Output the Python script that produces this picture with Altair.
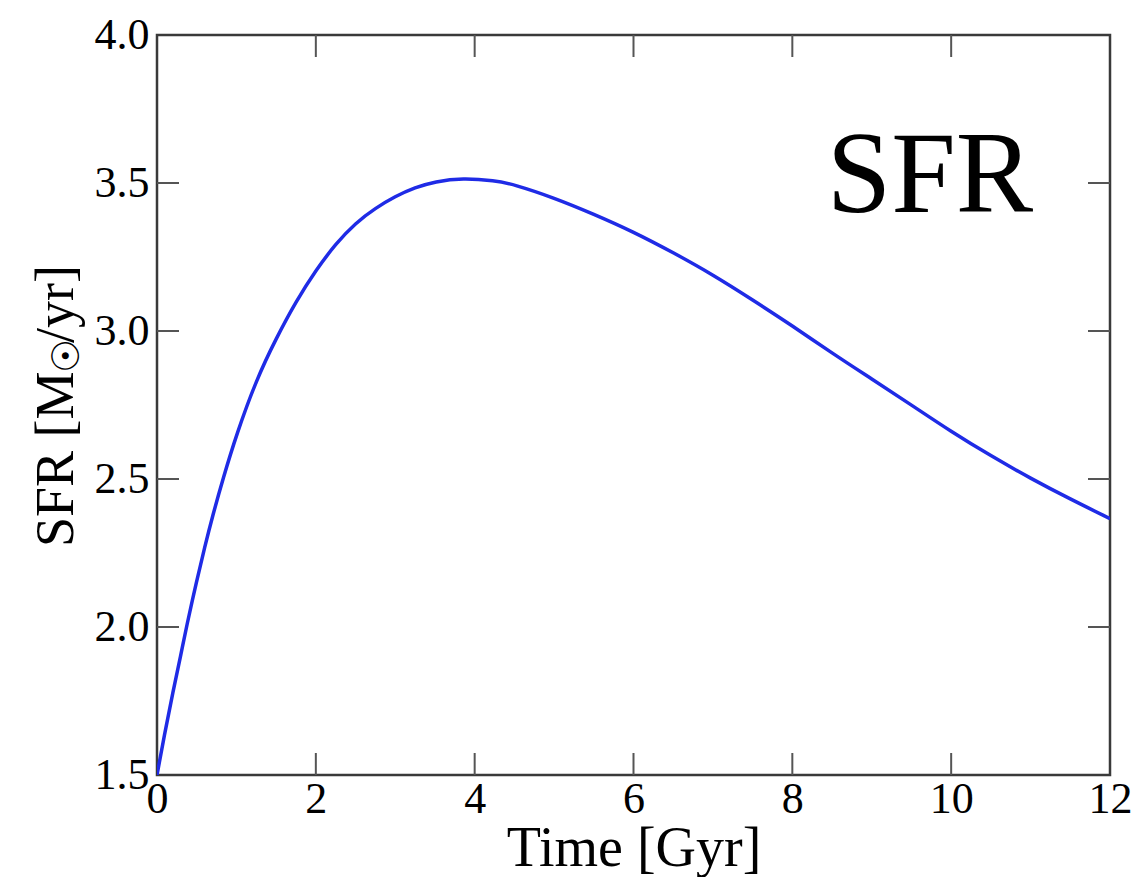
import altair as alt
import pandas as pd

# Curve
time_gyr = [0.0, 0.1, 0.2, 0.3, 0.37, 0.5, 0.6, 0.7, 0.83, 1.0, 1.25, 1.5, 1.75,
            2.0, 2.25, 2.5, 2.75, 3.0, 3.25, 3.5, 3.85, 4.25, 4.5, 5.0, 5.5,
            6.0, 6.5, 7.0, 7.5, 8.0, 8.5, 9.0, 9.5, 10.0, 10.5, 11.0, 11.5, 12.0]
sfr = [1.50, 1.645, 1.78, 1.905, 2.0, 2.156, 2.269, 2.375, 2.50, 2.65, 2.835, 2.975, 3.10,
       3.205, 3.295, 3.365, 3.415, 3.455, 3.485, 3.505, 3.517, 3.508, 3.495, 3.45, 3.395,
       3.335, 3.265, 3.19, 3.105, 3.018, 2.925, 2.838, 2.75, 2.66, 2.578, 2.502, 2.432, 2.366]

x_tick_labels = [0, 2, 4, 6, 8, 10, 12]
y_tick_labels = [1.5, 2.0, 2.5, 3.0, 3.5, 4.0]
x_inner_ticks = [2, 4, 6, 8, 10]
y_inner_ticks = [2.0, 2.5, 3.0, 3.5]
panel_label = ["SFR"]
y_title_parts = ["SFR [M", "\u2609", "/yr]"]

W, H = 953, 740
FONT = "Liberation Serif"
TICK_LEN = 22

curve = pd.DataFrame({"t": time_gyr, "sfr": sfr})
xt = pd.DataFrame({"t": x_inner_ticks})
yt = pd.DataFrame({"v": y_inner_ticks})
lab = pd.DataFrame({"label": panel_label})

xscale = alt.Scale(domain=[0, 12], nice=False, zero=False)
yscale = alt.Scale(domain=[1.5, 4.0], nice=False, zero=False)

line = alt.Chart(curve).mark_line(color="#1f2be6", strokeWidth=3.5, clip=True,
                                  interpolate="basis").encode(
    x=alt.X("t:Q", scale=xscale,
            axis=alt.Axis(values=x_tick_labels, format="d", title="Time [Gyr]", grid=False,
                          ticks=False, domain=False, labelFont=FONT, labelFontSize=44,
                          labelColor="black", labelPadding=2, labelFlush=False,
                          labelOverlap=False, titleFont=FONT, titleFontSize=56,
                          titleFontWeight="normal", titleColor="black", titlePadding=0)),
    y=alt.Y("sfr:Q", scale=yscale,
            axis=alt.Axis(values=y_tick_labels, format=".1f", title=None,
                          grid=False, ticks=False, domain=False, labelFont=FONT,
                          labelFontSize=44, labelColor="black", labelPadding=8,
                          labelFlush=False, labelOverlap=False)),
)

tick_color = "#555555"
bottom_ticks = alt.Chart(xt).mark_rule(color=tick_color, strokeWidth=2).encode(
    x=alt.X("t:Q", scale=xscale), y=alt.value(H), y2=alt.value(H - TICK_LEN))
top_ticks = alt.Chart(xt).mark_rule(color=tick_color, strokeWidth=2).encode(
    x=alt.X("t:Q", scale=xscale), y=alt.value(0), y2=alt.value(TICK_LEN))
left_ticks = alt.Chart(yt).mark_rule(color=tick_color, strokeWidth=2).encode(
    y=alt.Y("v:Q", scale=yscale), x=alt.value(0), x2=alt.value(TICK_LEN))
right_ticks = alt.Chart(yt).mark_rule(color=tick_color, strokeWidth=2).encode(
    y=alt.Y("v:Q", scale=yscale), x=alt.value(W), x2=alt.value(W - TICK_LEN))

label = alt.Chart(lab).mark_text(font=FONT, fontSize=116, color="black", align="center",
                                 baseline="alphabetic").encode(
    text="label:N", x=alt.value(773), y=alt.value(177))

# y-axis title built from pieces so the solar symbol can sit as a subscript
yt1 = alt.Chart(pd.DataFrame({"s": [y_title_parts[0]]})).mark_text(
    font=FONT, fontSize=54, color="black", angle=270, align="left",
    baseline="alphabetic").encode(text="s:N", x=alt.value(-84), y=alt.value(512))
yt2 = alt.Chart(pd.DataFrame({"s": [y_title_parts[1]]})).mark_text(
    font="DejaVu Sans", fontSize=38, color="black", angle=270, align="center",
    baseline="middle").encode(text="s:N", x=alt.value(-89), y=alt.value(321))
yt3 = alt.Chart(pd.DataFrame({"s": [y_title_parts[2]]})).mark_text(
    font=FONT, fontSize=54, color="black", angle=270, align="right",
    baseline="alphabetic").encode(text="s:N", x=alt.value(-84), y=alt.value(230))

chart = alt.layer(bottom_ticks, top_ticks, left_ticks, right_ticks, line, label,
                  yt1, yt2, yt3).properties(
    width=W, height=H,
    autosize=alt.AutoSizeParams(type="none"),
    padding={"left": 157, "top": 35, "right": 30, "bottom": 102},
    background="white",
).configure_view(stroke="#3a3a3a", strokeWidth=2.5)

chart.save("out.html", embed_options={"renderer": "svg", "actions": False})
